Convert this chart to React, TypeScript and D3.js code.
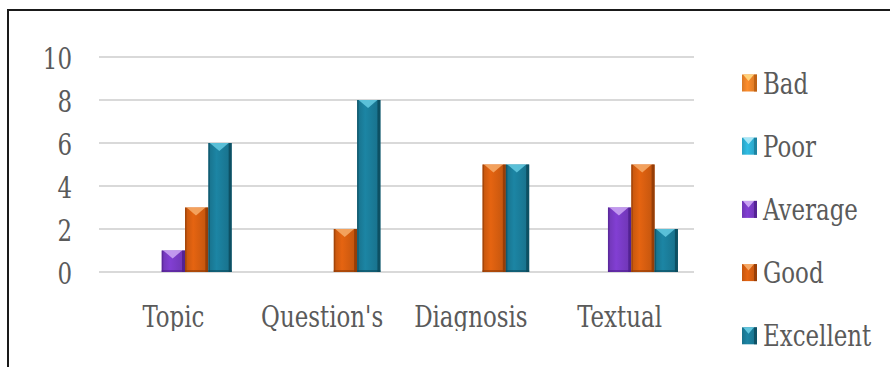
import React from "react";
import * as d3 from "d3";

const categories = ["Topic", "Question's", "Diagnosis", "Textual"];
const seriesNames = ["Bad", "Poor", "Average", "Good", "Excellent"];
const bad = [0, 0, 0, 0];
const poor = [0, 0, 0, 0];
const average = [1, 0, 0, 3];
const good = [3, 2, 5, 5];
const excellent = [6, 8, 5, 2];
const yTicks = [0, 2, 4, 6, 8, 10];

const seriesValues = [bad, poor, average, good, excellent];
const baseColors = ["#F0862A", "#2EB3D8", "#7B3CC8", "#D95F10", "#1B7E9B"];
const topColors = ["#FFD27A", "#A6E6F6", "#C9A2F2", "#F5A866", "#62C6DE"];
const edgeColors = ["#B85C12", "#1A7C98", "#4E1F8C", "#8E3A06", "#0C4A5C"];

const W = 890;
const H = 367;
const FONT = "'DejaVu Serif Condensed', 'DejaVu Serif', serif";
const SY = 1.15;

function Label(props: { x: number; y: number; anchor?: string; children: React.ReactNode; mid?: boolean }) {
  return (
    <g transform={`translate(${props.x},${props.y}) scale(1,${SY})`}>
      <text
        x={0}
        y={0}
        dy={props.mid ? "0.36em" : undefined}
        textAnchor={props.anchor || "start"}
        fontFamily={FONT}
        fontSize={25.5}
        fill="#5a5a5a"
      >
        {props.children}
      </text>
    </g>
  );
}

export default function App() {
  const x0 = d3.scaleBand<string>().domain(categories).range([99, 694]).paddingInner(0).paddingOuter(0);
  const x1 = d3
    .scaleBand<string>()
    .domain(seriesNames)
    .range([0, x0.step()])
    .paddingInner(0)
    .paddingOuter(0.69);
  const y = d3.scaleLinear().domain([0, 10]).range([272, 57]);
  const bw = x1.bandwidth();

  const bars: React.ReactNode[] = [];
  categories.forEach((c, ci) => {
    seriesNames.forEach((s, si) => {
      const v = seriesValues[si][ci];
      if (!v) return;
      const x = (x0(c) as number) + (x1(s) as number);
      const yt = y(v);
      const yb = y(0);
      const h = yb - yt;
      const tri = Math.min(8, h * 0.6);
      bars.push(
        <g key={c + s}>
          <rect x={x} y={yt} width={bw} height={h} fill={`url(#grad${si})`} />
          <rect x={x + bw - 3} y={yt} width={3} height={h} fill={edgeColors[si]} opacity={0.85} />
          <rect x={x} y={yt} width={1.5} height={h} fill={edgeColors[si]} opacity={0.6} />
          <rect x={x} y={yb - 2} width={bw} height={2} fill={edgeColors[si]} opacity={0.6} />
          <polygon
            points={`${x + 1.5},${yt} ${x + bw - 3},${yt} ${x + bw / 2 - 0.7},${yt + tri}`}
            fill={topColors[si]}
            opacity={0.9}
          />
        </g>
      );
    });
  });

  const legendX = 742;
  const legendY0 = 83;
  const legendStep = 63.2;

  return (
    <svg width={W} height={H} style={{ position: "absolute", left: 0, top: 0, background: "#fff" }}>
      <defs>
        {baseColors.map((col, i) => (
          <linearGradient key={i} id={`grad${i}`} x1="0" x2="1" y1="0" y2="0">
            <stop offset="0" stopColor={d3.color(col)!.darker(0.3).toString()} />
            <stop offset="0.35" stopColor={d3.color(col)!.brighter(0.15).toString()} />
            <stop offset="1" stopColor={d3.color(col)!.darker(0.35).toString()} />
          </linearGradient>
        ))}
        <clipPath id="labelClip">
          <rect x={0} y={0} width={W} height={331} />
        </clipPath>
      </defs>
      <rect x={0} y={0} width={W} height={H} fill="#fff" />
      <rect x={8} y={10} width={W + 20} height={H + 20} fill="none" stroke="#1a1a1a" strokeWidth={2} />

      {yTicks.map((t) => (
        <g key={t}>
          <line x1={99} x2={694} y1={y(t)} y2={y(t)} stroke="#d9d9d9" strokeWidth={2} />
          <Label x={72} y={y(t) + 1} anchor="end" mid>
            {t}
          </Label>
        </g>
      ))}

      {bars}

      <g clipPath="url(#labelClip)">
        {categories.map((c) => (
          <Label key={c} x={(x0(c) as number) + x0.bandwidth() / 2} y={327} anchor="middle">
            {c}
          </Label>
        ))}
      </g>

      {seriesNames.map((s, i) => {
        const cy = legendY0 + i * legendStep;
        return (
          <g key={s}>
            <rect x={legendX} y={cy - 8.5} width={15} height={17} fill={`url(#grad${i})`} />
            <rect x={legendX + 12} y={cy - 8.5} width={3} height={17} fill={edgeColors[i]} opacity={0.8} />
            <polygon
              points={`${legendX + 1},${cy - 8.5} ${legendX + 12},${cy - 8.5} ${legendX + 6.5},${cy - 2}`}
              fill={topColors[i]}
            />
            <Label x={legendX + 21} y={cy} mid>
              {s}
            </Label>
          </g>
        );
      })}
    </svg>
  );
}
